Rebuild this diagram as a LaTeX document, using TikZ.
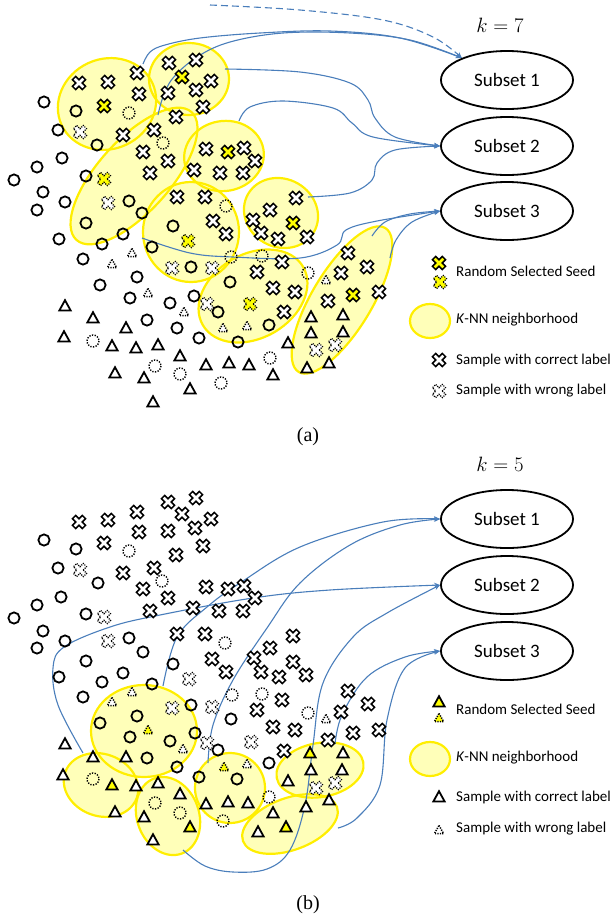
\documentclass[tikz,border=0pt]{standalone}
\usepackage{fontspec}
\newfontfamily\carl{Carlito}
\newfontfamily\tms{Liberation Serif}
\usetikzlibrary{arrows.meta,shapes.geometric}
\definecolor{flowblue}{RGB}{74,126,187}
\definecolor{knnline}{RGB}{255,238,0}
\definecolor{knnfillc}{RGB}{255,255,185}
\definecolor{seedy}{RGB}{255,255,0}
\newcommand\crossshape[1]{\draw[rotate=45,line join=miter,#1] (2.3,2.3)--(2.3,7)--(-2.3,7)--(-2.3,2.3)--(-7,2.3)--(-7,-2.3)--(-2.3,-2.3)--(-2.3,-7)--(2.3,-7)--(2.3,-2.3)--(7,-2.3)--(7,2.3)--cycle;}
\newcommand\trishape[1]{\draw[line join=miter,#1] (0,-5.8)--(5.6,4.4)--(-5.6,4.4)--cycle;}
\newcommand\smalltri[1]{\draw[#1] (0,-4.6)--(4.6,3.6)--(-4.6,3.6)--cycle;}
\tikzset{
 flow/.style={draw=flowblue,line width=1.1pt,-{Stealth[length=6pt,width=5pt]}},
 longdash/.style={dash pattern=on 7pt off 4pt},
 dotl/.style={dash pattern=on 1.1pt off 1.1pt},
 subset/.style={draw,ellipse,line width=1.8pt,minimum width=132pt,minimum height=58pt,inner sep=0pt,font=\carl\fontsize{19}{22}\selectfont},
 legtext/.style={anchor=west,inner sep=0pt,font=\carl\fontsize{15}{18}\selectfont},
 pics/xc/.style={code={\crossshape{line width=1.5pt,fill=white}}},
 pics/xd/.style={code={\crossshape{line width=1.2pt,fill=white,dotl}}},
 pics/xy/.style={code={\crossshape{line width=1.5pt,fill=seedy}}},
 pics/xyd/.style={code={\crossshape{line width=1.2pt,fill=seedy,dotl}}},
 pics/oc/.style={code={\draw[line width=1.8pt] (0,0) circle[radius=5.6];}},
 pics/od/.style={code={\draw[line width=1.4pt,dash pattern=on 1.3pt off 1.4pt] (0,0) circle[radius=6];}},
 pics/tc/.style={code={\trishape{line width=1.8pt,fill=white}}},
 pics/ty/.style={code={\trishape{line width=1.8pt,fill=seedy}}},
 pics/td/.style={code={\smalltri{line width=1.5pt,fill=white,dash pattern=on 1.2pt off 1.2pt}}},
 pics/tyd/.style={code={\smalltri{line width=1.5pt,fill=seedy,dash pattern=on 1.2pt off 1.2pt}}},
}
\def\ellsA{107/104/50/45/25, 189/79/40/36/0, 134/176/86/36/48, 224/156/40/35/10, 191/232/48/50/0, 281/213/38/34/-30, 253/296/58/42/30, 342/300/84/30/59}
\def\ellsB{144/731/53/46/0, 101/785/38/31/-20, 168/816/31/40/20, 230/788/35/35/0, 320/770/44/27/10, 290/824/50/26/20}
\begin{document}
\begin{tikzpicture}[x=1pt,y=-1pt]
\useasboundingbox (0,0) rectangle (615,922);
% ---------- neighbourhoods ----------
\foreach \cx/\cy/\rx/\ry/\an in \ellsA {\fill[knnfillc,shift={(\cx,\cy)},rotate=\an] (0,0) ellipse[x radius=\rx,y radius=\ry];}
\foreach \cx/\cy/\rx/\ry/\an in \ellsA {\draw[knnline,line width=2.2pt,shift={(\cx,\cy)},rotate=\an] (0,0) ellipse[x radius=\rx,y radius=\ry];}
\foreach \cx/\cy/\rx/\ry/\an in \ellsB {\fill[knnfillc,shift={(\cx,\cy)},rotate=\an] (0,0) ellipse[x radius=\rx,y radius=\ry];}
\foreach \cx/\cy/\rx/\ry/\an in \ellsB {\draw[knnline,line width=2.2pt,shift={(\cx,\cy)},rotate=\an] (0,0) ellipse[x radius=\rx,y radius=\ry];}
% legend ellipses
\draw[knnline,fill=knnfillc,line width=2.2pt] (430,321) ellipse[x radius=20,y radius=17];
\draw[knnline,fill=knnfillc,line width=2.2pt] (430,759) ellipse[x radius=20,y radius=17];
% ---------- subsets ----------
\node[subset] (s1) at (507,80) {Subset 1};
\node[subset] (s2) at (507,146) {Subset 2};
\node[subset] (s3) at (507,211) {Subset 3};
\node[subset] (t1) at (507,519) {Subset 1};
\node[subset] (t2) at (507,585) {Subset 2};
\node[subset] (t3) at (507,651) {Subset 3};
\node (k7) at (500,25) {\fontsize{20}{22}\selectfont $k=7$};
\node (k5) at (500,464) {\fontsize{20}{22}\selectfont $k=5$};
\node (la) at (308,437) {\tms\fontsize{20}{22}\selectfont (a)};
\node (lb) at (308,905) {\tms\fontsize{20}{22}\selectfont (b)};
% ---------- connectors (a) ----------
\coordinate (ca) at (143,64);
\coordinate (cb) at (158,115);
\coordinate (cdash) at (210,5);
\coordinate (cc) at (225,69);
\coordinate (cd) at (239,121);
\coordinate (ce) at (308,197);
\coordinate (cg) at (142,238);
\coordinate (ch) at (372,236);
\coordinate (ci) at (390,258);
\draw[flow] plot[smooth,tension=0.6] coordinates {(ca) (150,52) (165,45) (200,38) (260,33) (330,31) (400,38) (s1.154)};
\draw[flow] plot[smooth,tension=0.6] coordinates {(cb) (163,97) (173,78) (197,57) (230,42) (283,33) (350,33) (410,40) (s1.154)};
\draw[flow,longdash] plot[smooth,tension=0.6] coordinates {(cdash) (300,10) (383,20) (433,37) (s1.154)};
\draw[flow] plot[smooth,tension=0.6] coordinates {(cc) (300,72) (350,83) (368,100) (375,118) (395,137) (s2.west)};
\draw[flow] plot[smooth,tension=0.6] coordinates {(cd) (250,107) (283,101) (333,108) (352,123) (373,137) (s2.west)};
\draw[flow] plot[smooth,tension=0.6] coordinates {(ce) (350,193) (372,180) (377,163) (395,150) (s2.west)};
\draw[flow] plot[smooth,tension=0.6] coordinates {(cg) (190,253) (233,257) (300,258) (337,245) (346,230) (377,221) (s3.west)};
\draw[flow] plot[smooth,tension=0.6] coordinates {(ch) (385,222) (410,214) (s3.west)};
\draw[flow] plot[smooth,tension=0.6] coordinates {(ci) (396,240) (412,222) (s3.west)};
% ---------- connectors (b) ----------
\coordinate (b1) at (83,753);
\coordinate (b2) at (163,686);
\coordinate (b3) at (208,763);
\coordinate (b4) at (183,850);
\coordinate (b5) at (335,744);
\coordinate (b6) at (338,828);
\draw[flow] plot[smooth,tension=0.6] coordinates {(b1) (58,705) (53,668) (64,647) (110,627) (160,615) (253,598) (330,590) (t2.west)};
\draw[flow] plot[smooth,tension=0.6] coordinates {(b2) (177,637) (207,607) (240,583) (300,547) (383,522) (t1.west)};
\draw[flow] plot[smooth,tension=0.6] coordinates {(b3) (213,725) (233,680) (267,628) (300,583) (350,545) (400,525) (t1.west)};
\draw[flow] plot[smooth,tension=0.6] coordinates {(b4) (205,866) (233,872) (267,869) (290,850) (305,805) (313,745) (323,683) (353,637) (387,613) (t2.west)};
\draw[flow] plot[smooth,tension=0.6] coordinates {(b5) (342,715) (367,677) (405,657) (t3.west)};
\draw[flow] plot[smooth,tension=0.6] coordinates {(b6) (357,818) (380,785) (387,720) (405,668) (t3.west)};
% ---------- samples (a) ----------
\foreach \x/\y in {44/102,58/130,76/111,97/145,62/158,37/167,14/180,43/192,65/202,37/210,86/176,129/201,142/213,86/223,59/239,102/244,123/234,83/259,100/285,137/277,130/298,173/226,152/247,191/267,194/296,170/303,147/320,177/328,199/338,218/312,230/282,269/325,238/342}
  \pic at (\x,\y) {oc};
\foreach \x/\y in {129/113,163/143,226/206,231/257,262/256,93/341,155/366,180/374,221/383,270/358,308/273}
  \pic at (\x,\y) {od};
\foreach \x/\y in {80/132,108/203,172/268,212/268,207/304,316/350,335/345}
  \pic at (\x,\y) {xd};
\foreach \x/\y in {104/179,188/241,250/304}
  \pic at (\x,\y) {xyd};
\foreach \x/\y in {79/83,108/82,137/73,139/94,123/135,169/63,196/60,211/81,168/93,196/90,203/107,176/117,154/130,143/152,168/161,150/173,206/149,244/148,255/161,194/170,220/173,243/173,177/197,205/197,213/221,226/234,296/198,270/210,253/220,261/233,278/239,307/237,282/262,257/272,273/288,295/292,284/312,348/253,367/267,341/273,379/292,328/301}
  \pic at (\x,\y) {xc};
\foreach \x/\y in {104/106,182/77,228/152,293/223,353/295}
  \pic at (\x,\y) {xy};
\foreach \x/\y in {132/253,112/264,148/293,184/312,223/328,247/326,326/280}
  \pic at (\x,\y) {td};
\foreach \x/\y in {65/306,93/318,126/328,64/337,112/346,136/348,158/345,180/356,206/365,115/373,144/378,190/389,153/402,229/363,249/365,273/375,288/343,311/317,343/315,311/333,343/332,307/368,329/363}
  \pic at (\x,\y) {tc};
% ---------- samples (b) ----------
\foreach \x/\y in {44/540,76/549,58/568,98/583,61/597,37/605,14/618,86/614,43/631,65/641,37/648,129/638,143/652,86/661,123/673,173/664,59/677,102/682,152/684,83/697,191/705,231/719,100/723,137/716,130/737,170/741,195/733,147/758,177/767,218/750,199/777,237/779,269/763}
  \pic at (\x,\y) {oc};
\foreach \x/\y in {129/551,162/581,225/643,232/695,262/694,93/779,155/803,180/813,269/797,223/821,308/713}
  \pic at (\x,\y) {od};
\foreach \x/\y in {80/570,104/617,108/641,189/679,172/708,212/707,207/743,251/742,316/788,335/783}
  \pic at (\x,\y) {xd};
\foreach \x/\y in {79/522,108/520,137/512,168/502,196/498,182/514,211/519,139/532,104/543,168/531,195/528,203/546,176/555,154/568,123/573,143/589,168/598,150/611,193/608,206/587,228/589,244/586,255/598,219/611,243/611,177/634,205/634,212/659,226/672,254/658,270/648,261/672,279/677,293/636,293/662,306/675,282/700,257/710,273/727,295/730,284/751,348/691,368/704,341/712,353/733,379/730,328/740}
  \pic at (\x,\y) {xc};
\foreach \x/\y in {132/692,112/702,183/749,247/764,326/719}
  \pic at (\x,\y) {td};
\foreach \x/\y in {148/730,224/767}
  \pic at (\x,\y) {tyd};
\foreach \x/\y in {65/744,93/757,126/757,63/775,136/786,158/783,180/794,115/812,144/817,153/840,206/804,228/802,248/803,288/781,343/753,311/770,342/770,306/807,329/800,273/813,258/832}
  \pic at (\x,\y) {tc};
\foreach \x/\y in {112/785,190/827,310/753,286/827}
  \pic at (\x,\y) {ty};
% ---------- legends ----------
\pic at (439,263) {xy};
\pic at (440,282) {xyd};
\pic at (439,360) {xc};
\pic at (439,391) {xd};
\node[legtext] (l1) at (456,271) {Random Selected Seed};
\node[legtext] (l2) at (456,320) {\textit{K}-NN neighborhood};
\node[legtext] (l3) at (456,360) {Sample with correct label};
\node[legtext] (l4) at (456,391) {Sample with wrong label};
\pic at (439,702) {ty};
\pic at (439,718) {tyd};
\pic at (439,797) {tc};
\pic at (439,830) {td};
\node[legtext] (m1) at (456,709) {Random Selected Seed};
\node[legtext] (m2) at (456,758) {\textit{K}-NN neighborhood};
\node[legtext] (m3) at (456,797) {Sample with correct label};
\node[legtext] (m4) at (456,829) {Sample with wrong label};
\end{tikzpicture}
\end{document}
